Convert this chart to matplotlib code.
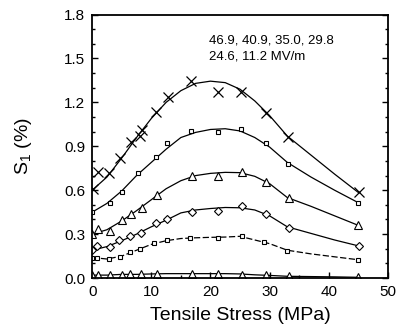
import numpy as np
import matplotlib
matplotlib.use("Agg")
import matplotlib.pyplot as plt
from matplotlib.ticker import MultipleLocator

plt.rcParams['font.family'] = ['Liberation Sans', 'DejaVu Sans']
plt.rcParams['mathtext.fontset'] = 'custom'
plt.rcParams['mathtext.rm'] = 'Liberation Sans'

# puntos medidos (marcadores) por campo eléctrico
x1 = [0.2, 1.0, 2.9, 4.7, 6.6, 8.1, 8.4, 10.8, 12.8, 16.7, 21.3, 25.2, 29.4, 33.2, 45.1]
y1 = [0.61, 0.726, 0.715, 0.822, 0.931, 0.97, 1.01, 1.136, 1.238, 1.346, 1.273, 1.273, 1.13, 0.965, 0.585]

x2 = [0, 3.0, 5.0, 7.8, 10.8, 12.6, 16.7, 21.3, 25.2, 29.4, 33.2, 44.9]
y2 = [0.453, 0.51, 0.59, 0.72, 0.829, 0.92, 1.004, 0.999, 1.018, 0.92, 0.776, 0.515]

x3 = [0, 1.0, 3.0, 5.0, 6.5, 8.4, 11.0, 16.8, 21.3, 25.4, 29.4, 33.3, 45.0]
y3 = [0.30, 0.333, 0.323, 0.396, 0.44, 0.48, 0.57, 0.70, 0.697, 0.726, 0.658, 0.544, 0.362]

x4 = [0, 0.8, 3.0, 4.6, 6.4, 8.3, 10.8, 12.6, 16.8, 21.3, 25.4, 29.4, 33.3, 45.1]
y4 = [0.19, 0.219, 0.21, 0.26, 0.287, 0.31, 0.378, 0.40, 0.453, 0.46, 0.49, 0.437, 0.34, 0.22]

x5 = [0, 0.8, 2.9, 4.7, 6.4, 8.1, 10.4, 12.6, 16.6, 21.3, 25.4, 29.1, 33.0, 45.0]
y5 = [0.14, 0.134, 0.128, 0.146, 0.18, 0.196, 0.241, 0.26, 0.271, 0.275, 0.287, 0.248, 0.187, 0.123]

x6 = [0, 1.0, 3.0, 5.0, 6.4, 8.3, 11.0, 16.8, 21.3, 25.4, 29.4, 33.3, 45.0]
y6 = [0.02, 0.02, 0.02, 0.022, 0.025, 0.028, 0.025, 0.025, 0.028, 0.022, 0.018, 0.012, 0.008]

# curvas ajustadas
xc = [0, 2.5, 5, 7.5, 10, 12.5, 15, 17.5, 20, 22.5, 25, 27.5, 30, 33, 37, 41, 45]
c1 = [0.60, 0.69, 0.82, 0.96, 1.09, 1.20, 1.28, 1.33, 1.345, 1.335, 1.29, 1.21, 1.11, 0.97, 0.84, 0.71, 0.585]
c2 = [0.45, 0.51, 0.595, 0.70, 0.79, 0.88, 0.96, 0.995, 1.015, 1.02, 1.005, 0.96, 0.895, 0.79, 0.69, 0.60, 0.515]
c3 = [0.30, 0.33, 0.39, 0.46, 0.535, 0.61, 0.665, 0.70, 0.715, 0.722, 0.72, 0.695, 0.645, 0.55, 0.49, 0.425, 0.36]
c4 = [0.19, 0.215, 0.255, 0.30, 0.35, 0.395, 0.445, 0.465, 0.475, 0.482, 0.48, 0.465, 0.425, 0.35, 0.305, 0.26, 0.22]
c5 = [0.14, 0.13, 0.15, 0.19, 0.23, 0.255, 0.27, 0.275, 0.278, 0.28, 0.285, 0.26, 0.235, 0.19, 0.165, 0.145, 0.125]
c6 = [0.02, 0.02, 0.025, 0.025, 0.028, 0.03, 0.03, 0.03, 0.03, 0.03, 0.028, 0.022, 0.018, 0.012, 0.01, 0.008, 0.005]

fig = plt.figure(figsize=(3.99, 3.31), dpi=100)
ax = fig.add_axes([0.231, 0.160, 0.741, 0.796])

# curvas
ax.plot(xc, c1, color='black', lw=0.9)
ax.plot(xc, c2, color='black', lw=0.9)
ax.plot(xc, c3, color='black', lw=0.9)
ax.plot(xc, c4, color='black', lw=0.9)
ax.plot(xc, c5, color='black', lw=0.9, linestyle=(0, (5, 2)))
ax.plot(xc, c6, color='black', lw=0.9)

# marcadores
ax.plot(x1, y1, linestyle='none', marker='x', ms=6.5, mew=0.9, color='black')
ax.plot(x2, y2, linestyle='none', marker='s', ms=3.5, mew=0.8, mfc='white', color='black')
ax.plot(x3, y3, linestyle='none', marker='^', ms=6, mew=0.8, mfc='white', color='black')
ax.plot(x4, y4, linestyle='none', marker='D', ms=4.5, mew=0.8, mfc='white', color='black')
ax.plot(x5, y5, linestyle='none', marker='s', ms=3, mew=0.8, mfc='white', color='black')
ax.plot(x6, y6, linestyle='none', marker='^', ms=5.5, mew=0.8, mfc='white', color='black')

ax.set_xlim(0, 50)
ax.set_ylim(0, 1.8)
ax.xaxis.set_major_locator(MultipleLocator(10))
ax.xaxis.set_minor_locator(MultipleLocator(5))
ax.yaxis.set_minor_locator(MultipleLocator(0.1))
ax.set_yticks(np.arange(0, 1.81, 0.3))
ax.set_yticklabels(['0.0', '0.3', '0.6', '0.9', '1.2', '1.5', '1.8'])
ax.tick_params(which='both', direction='in', right=True, labelsize=11, width=1)
ax.tick_params(which='major', length=4, pad=5)
ax.tick_params(which='minor', length=2)
for s in ax.spines.values():
    s.set_linewidth(1.3)

ax.set_xlabel('Tensile Stress (MPa)', fontsize=14, labelpad=6)
ax.set_ylabel(r'S$_{\rm 1}$ (%)', fontsize=14, labelpad=22)

ax.text(0.395, 0.925, '46.9, 40.9, 35.0, 29.8\n24.6, 11.2 MV/m', transform=ax.transAxes,
        fontsize=9.5, va='top', ha='left', linespacing=1.5)

fig.savefig('out.png', dpi=100)
